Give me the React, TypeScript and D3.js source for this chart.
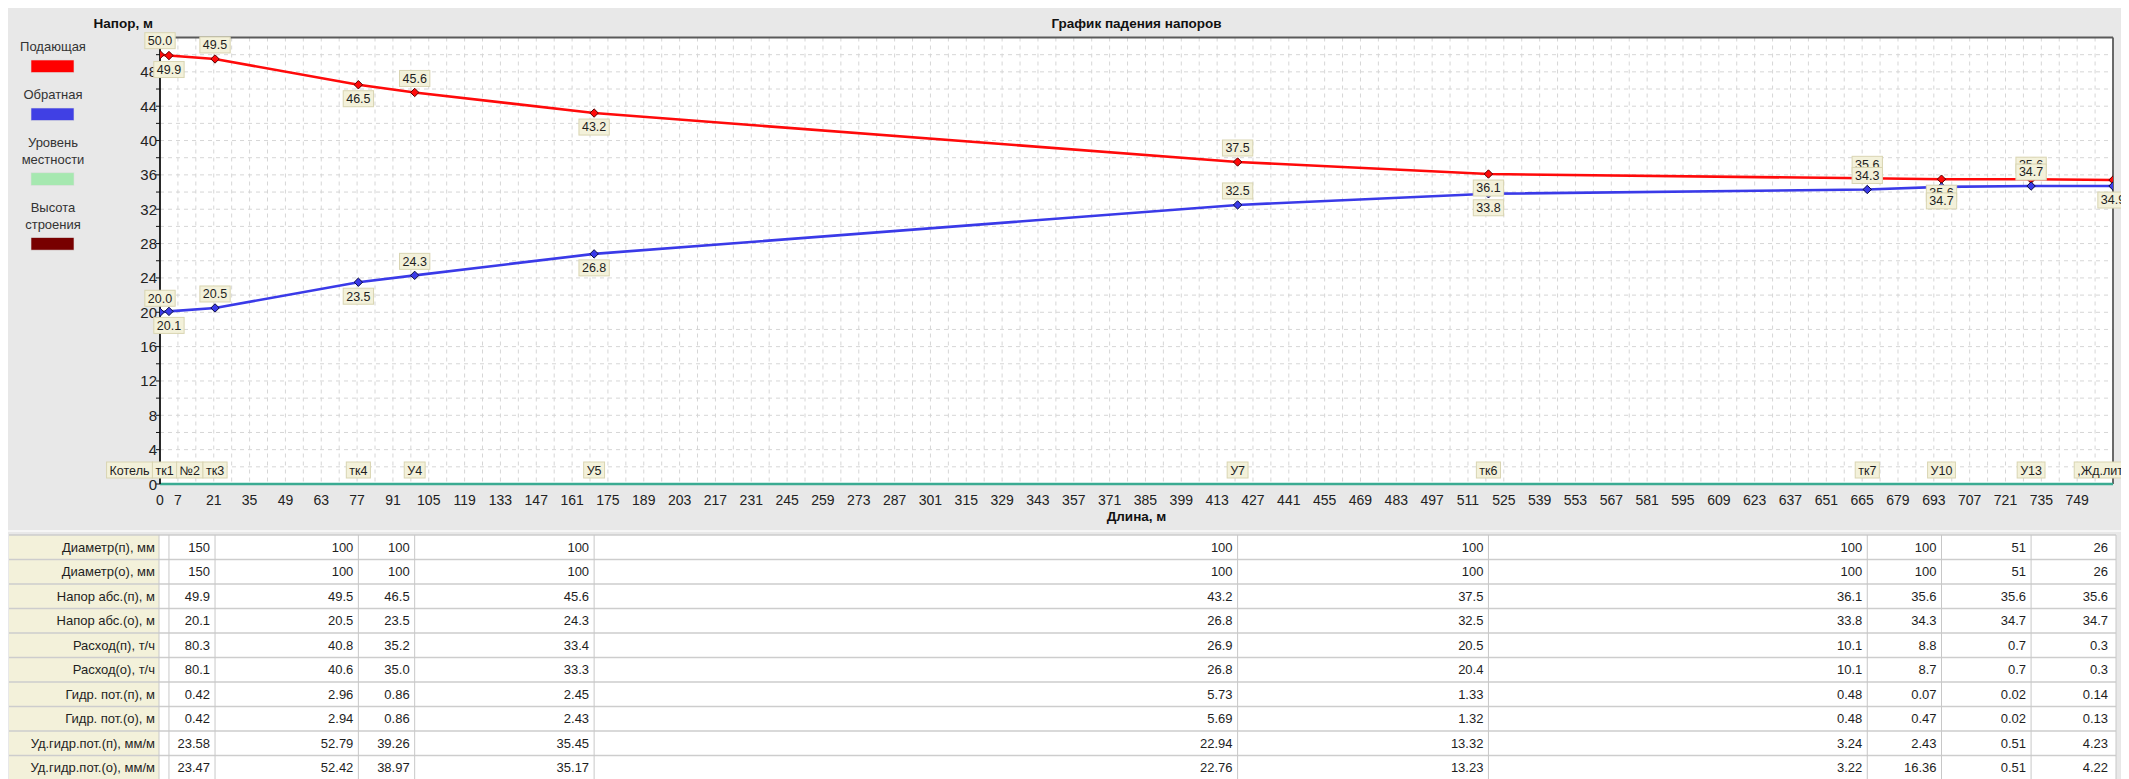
import React, { useEffect } from 'react';
import * as d3 from 'd3';

// ---------- DATA ----------
const lengthMax = 763; // m
const headMax = 52; // m

const nodeX = [0, 3.5, 21.5, 77.5, 99.5, 169.6, 421, 519, 667, 696, 731, 763];
const supplyHead = [50.0, 49.9, 49.5, 46.5, 45.6, 43.2, 37.5, 36.1, 35.6, 35.5, 35.5, 35.4];
const returnHead = [20.0, 20.1, 20.5, 23.5, 24.3, 26.8, 32.5, 33.8, 34.3, 34.6, 34.7, 34.7];
const supplyLabels = ['50.0', '49.9', '49.5', '46.5', '45.6', '43.2', '37.5', '36.1', '35.6', '35.6', '35.6', ''];
const returnLabels = ['20.0', '20.1', '20.5', '23.5', '24.3', '26.8', '32.5', '33.8', '34.3', '34.7', '34.7', '34.9'];
const terrainLevel = [0, 0];

const nodeNames = ['Котель', 'тк1', '№2', 'тк3', 'тк4', 'У4', 'У5', 'У7', 'тк6', 'тк7', 'У10', 'У13', ',Жд.лит'];
const nodeNameX = [0, 3.5, 12.5, 21.5, 77.5, 99.5, 169.6, 421, 519, 667, 696, 731, 763];

const xTickLabels = [0, ...d3.range(7, lengthMax, 14)];
const yTickLabels = d3.range(0, headMax, 4);

const legendItems = [
  { name: ['Подающая'], color: '#ff0000' },
  { name: ['Обратная'], color: '#4040e4' },
  { name: ['Уровень', 'местности'], color: '#a6e8b0' },
  { name: ['Высота', 'строения'], color: '#780000' },
];

const tableRowNames = [
  'Диаметр(п), мм',
  'Диаметр(о), мм',
  'Напор абс.(п), м',
  'Напор абс.(о), м',
  'Расход(п), т/ч',
  'Расход(о), т/ч',
  'Гидр. пот.(п), м',
  'Гидр. пот.(о), м',
  'Уд.гидр.пот.(п), мм/м',
  'Уд.гидр.пот.(о), мм/м',
];
const diamSupply = ['', '150', '100', '100', '100', '100', '100', '100', '100', '51', '26'];
const diamReturn = ['', '150', '100', '100', '100', '100', '100', '100', '100', '51', '26'];
const headAbsSupply = ['', '49.9', '49.5', '46.5', '45.6', '43.2', '37.5', '36.1', '35.6', '35.6', '35.6'];
const headAbsReturn = ['', '20.1', '20.5', '23.5', '24.3', '26.8', '32.5', '33.8', '34.3', '34.7', '34.7'];
const flowSupply = ['', '80.3', '40.8', '35.2', '33.4', '26.9', '20.5', '10.1', '8.8', '0.7', '0.3'];
const flowReturn = ['', '80.1', '40.6', '35.0', '33.3', '26.8', '20.4', '10.1', '8.7', '0.7', '0.3'];
const lossSupply = ['', '0.42', '2.96', '0.86', '2.45', '5.73', '1.33', '0.48', '0.07', '0.02', '0.14'];
const lossReturn = ['', '0.42', '2.94', '0.86', '2.43', '5.69', '1.32', '0.48', '0.47', '0.02', '0.13'];
const specLossSupply = ['', '23.58', '52.79', '39.26', '35.45', '22.94', '13.32', '3.24', '2.43', '0.51', '4.23'];
const specLossReturn = ['', '23.47', '52.42', '38.97', '35.17', '22.76', '13.23', '3.22', '16.36', '0.51', '4.22'];
const tableValues = [
  diamSupply, diamReturn, headAbsSupply, headAbsReturn, flowSupply,
  flowReturn, lossSupply, lossReturn, specLossSupply, specLossReturn,
];

// ---------- STYLE ----------
const FONT = '"Liberation Sans", Arial, sans-serif';
const RED = '#ff0a0a';
const BLUE = '#3a3ae8';
const TERRAIN = '#3aab92';
const BOX_FILL = '#f3f1da';
const BOX_STROKE = '#d9d5b2';

let ctx: CanvasRenderingContext2D | null = null;
function textWidth(t: string, size: number, bold = false): number {
  if (!ctx) ctx = document.createElement('canvas').getContext('2d');
  if (!ctx) return t.length * size * 0.55;
  ctx.font = `${bold ? 'bold ' : ''}${size}px "Liberation Sans", Arial, sans-serif`;
  return ctx.measureText(t).width;
}

const diamond = (cx: number, cy: number, r: number) =>
  `M${cx},${cy - r}L${cx + r},${cy}L${cx},${cy + r}L${cx - r},${cy}Z`;

export default function App() {
  useEffect(() => {
    document.documentElement.style.overflow = 'hidden';
    document.body.style.overflow = 'hidden';
  }, []);

  const PL = 160, PR = 2113, PT = 37.5, PB = 484;
  const x = d3.scaleLinear().domain([0, lengthMax]).range([PL, PR]);
  const y = d3.scaleLinear().domain([0, headMax]).range([PB, PT]);

  const line = d3.line<[number, number]>().x((d) => x(d[0])).y((d) => y(d[1]));
  const supplyPts = nodeX.map((v, i) => [v, supplyHead[i]] as [number, number]);
  const returnPts = nodeX.map((v, i) => [v, returnHead[i]] as [number, number]);

  // node name labels with simple right-to-left collision avoidance
  const NL_SIZE = 12.5;
  const nameBoxes = nodeNames.map((n, i) => {
    const w = textWidth(n, NL_SIZE) + 6;
    const cx = x(nodeNameX[i]);
    return { n, w, left: cx - w / 2 };
  });
  const last = nameBoxes[nameBoxes.length - 1];
  if (last.left + last.w > 2126) last.left = 2126 - last.w;
  for (let i = nameBoxes.length - 2; i >= 0; i--) {
    const r = nameBoxes[i].left + nameBoxes[i].w;
    if (r > nameBoxes[i + 1].left) nameBoxes[i].left -= r - nameBoxes[i + 1].left;
  }

  const DL_SIZE = 12.5;
  const dataLabel = (label: string, vx: number, vy: number, i: number, key: string) => {
    if (!label) return null;
    const w = textWidth(label, DL_SIZE) + 6;
    const px = x(vx), py = y(vy);
    const h = 16;
    const top = i % 2 === 0 ? py - 6 - h : py + 6;
    return (
      <g key={key}>
        <rect x={px - w / 2} y={top} width={w} height={h} fill={BOX_FILL} stroke={BOX_STROKE} strokeWidth={1} />
        <text x={px} y={top + 12.3} textAnchor="middle" fontSize={DL_SIZE} fill="#1e1e1e">{label}</text>
      </g>
    );
  };

  const TT = 535, RH = 24.5;
  const cellEdges = nodeX.map((v) => x(v));
  const tableRight = cellEdges[cellEdges.length - 1] + 3;

  return (
    <svg width={2121} height={771} style={{ display: 'block' }} fontFamily={FONT}>
      <defs>
        <clipPath id="plotClip">
          <rect x={PL} y={PT} width={PR - PL} height={PB - PT} />
        </clipPath>
      </defs>
      <g transform="translate(-8,-8)">
        <rect x={8} y={8} width={2121} height={771} fill="#e8e8e8" />

        {/* plot background */}
        <rect x={PL} y={PT} width={PR - PL} height={PB - PT} fill="#ffffff" />

        {/* grid */}
        {d3.range(7, lengthMax, 7).map((v) => (
          <line key={'gx' + v} x1={x(v)} x2={x(v)} y1={PT} y2={PB} stroke="#d6d6d6" strokeWidth={1} strokeDasharray="4,4" />
        ))}
        {d3.range(2, headMax, 2).map((v) => (
          <line key={'gy' + v} x1={PL} x2={PR} y1={y(v)} y2={y(v)} stroke="#d6d6d6" strokeWidth={1} strokeDasharray="4,4" />
        ))}

        {/* frame */}
        <line x1={PL} x2={PR} y1={PT} y2={PT} stroke="#5a5a5a" strokeWidth={1.8} />
        <line x1={PR} x2={PR} y1={PT} y2={PB} stroke="#5a5a5a" strokeWidth={1.8} />

        {/* terrain level */}
        <line x1={x(0)} x2={x(lengthMax)} y1={y(terrainLevel[0])} y2={y(terrainLevel[1])} stroke={TERRAIN} strokeWidth={2.5} />

        {/* left axis */}
        <line x1={PL} x2={PL} y1={PT} y2={PB} stroke="#111" strokeWidth={1.8} />
        {d3.range(0, headMax + 1, 2).map((v) => (
          <line key={'ty' + v} x1={PL - 4} x2={PL} y1={y(v)} y2={y(v)} stroke="#111" strokeWidth={1} />
        ))}
        {yTickLabels.map((v) => (
          <text key={'ly' + v} x={PL - 3} y={y(v) + 5.5} textAnchor="end" fontSize={15} fill="#222">{v}</text>
        ))}
        {xTickLabels.map((v) => (
          <text key={'lx' + v} x={x(v)} y={505} textAnchor="middle" fontSize={14} fill="#222">{v}</text>
        ))}

        {/* series */}
        <g clipPath="url(#plotClip)">
          <path d={line(supplyPts) || ''} fill="none" stroke={RED} strokeWidth={2.6} />
          <path d={line(returnPts) || ''} fill="none" stroke={BLUE} strokeWidth={2.6} />
          {supplyPts.map((p, i) => (
            <path key={'ms' + i} d={diamond(x(p[0]), y(p[1]), 4.2)} fill={RED} stroke="#5a0000" strokeWidth={1} />
          ))}
          {returnPts.map((p, i) => (
            <path key={'mr' + i} d={diamond(x(p[0]), y(p[1]), 4.2)} fill={BLUE} stroke="#0a0a40" strokeWidth={1} />
          ))}
        </g>

        {/* node names */}
        {nameBoxes.map((b, i) => (
          <g key={'nn' + i}>
            <rect x={b.left} y={462} width={b.w} height={16} fill={BOX_FILL} stroke={BOX_STROKE} strokeWidth={1} />
            <text x={b.left + b.w / 2} y={474.5} textAnchor="middle" fontSize={NL_SIZE} fill="#1e1e1e">{b.n}</text>
          </g>
        ))}

        {/* data labels */}
        {supplyPts.map((p, i) => dataLabel(supplyLabels[i], p[0], p[1], i, 'ds' + i))}
        {returnPts.map((p, i) => dataLabel(returnLabels[i], p[0], p[1], i, 'dr' + i))}

        {/* titles */}
        <text x={(PL + PR) / 2} y={27.5} textAnchor="middle" fontSize={13.5} fontWeight="bold" fill="#111">График падения напоров</text>
        <text x={153} y={27.5} textAnchor="end" fontSize={13.5} fontWeight="bold" fill="#111">Напор, м</text>
        <text x={(PL + PR) / 2} y={521} textAnchor="middle" fontSize={13.5} fontWeight="bold" fill="#111">Длина, м</text>

        {/* legend */}
        {(() => {
          let cy = 46.5;
          return legendItems.map((it, k) => {
            const texts = it.name.map((t, j) => (
              <text key={j} x={53} y={cy + 4.5 + j * 16.8} textAnchor="middle" fontSize={13} fill="#333">{t}</text>
            ));
            const sy = cy + 13.5 + (it.name.length - 1) * 16.8;
            const g = (
              <g key={'lg' + k}>
                {texts}
                <rect x={31} y={sy} width={43} height={12.5} fill={it.color} stroke="#dcdcdc" strokeWidth={0.6} />
              </g>
            );
            cy = sy + 34.5;
            return g;
          });
        })()}

        {/* splitter */}
        <line x1={8} x2={2129} y1={531} y2={531} stroke="#f6f6f6" strokeWidth={2} />

        {/* table */}
        <rect x={9} y={TT} width={PL - 1 - 9} height={RH * tableRowNames.length} fill={BOX_FILL} />
        <rect x={PL - 1} y={TT} width={tableRight - PL + 1} height={RH * tableRowNames.length} fill="#ffffff" />
        {tableRowNames.map((name, r) => {
          const top = TT + r * RH;
          return (
            <g key={'tr' + r}>
              <text x={155} y={top + RH / 2 + 4.5} textAnchor="end" fontSize={13} fill="#1e1e1e">{name}</text>
              {tableValues[r].map((v, c) =>
                v ? (
                  <text key={c} x={cellEdges[c + 1] - 5} y={top + RH / 2 + 4.5} textAnchor="end" fontSize={13} fill="#1e1e1e">{v}</text>
                ) : null
              )}
            </g>
          );
        })}
        {d3.range(0, tableRowNames.length + 1).map((r) => (
          <line key={'th' + r} x1={9} x2={tableRight} y1={TT + r * RH} y2={TT + r * RH} stroke="#cdcdcd" strokeWidth={1.6} />
        ))}
        {[PL - 1, ...cellEdges.slice(1, -1), tableRight].map((cx, i) => (
          <line key={'tv' + i} x1={cx} x2={cx} y1={TT} y2={TT + RH * tableRowNames.length} stroke="#c8c8c8" strokeWidth={1} />
        ))}
      </g>
    </svg>
  );
}
